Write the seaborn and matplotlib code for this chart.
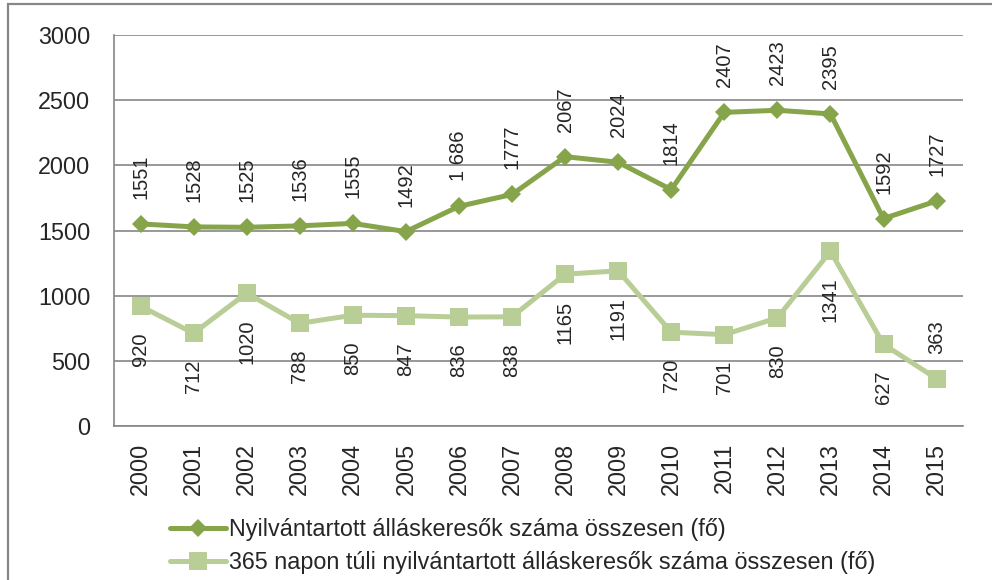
import pandas as pd
import matplotlib.pyplot as plt
import seaborn as sns
from matplotlib.patches import Rectangle

# data
years = ['2000', '2001', '2002', '2003', '2004', '2005', '2006', '2007',
         '2008', '2009', '2010', '2011', '2012', '2013', '2014', '2015']
osszes = [1551, 1528, 1525, 1536, 1555, 1492, 1686, 1777,
          2067, 2024, 1814, 2407, 2423, 2395, 1592, 1727]
osszes_labels = ['1551', '1528', '1525', '1536', '1555', '1492', '1 686', '1777',
                 '2067', '2024', '1814', '2407', '2423', '2395', '1592', '1727']
tartos = [920, 712, 1020, 788, 850, 847, 836, 838,
          1165, 1191, 720, 701, 830, 1341, 627, 363]

name1 = 'Nyilvántartott álláskeresők száma összesen (fő)'
name2 = '365 napon túli nyilvántartott álláskeresők száma összesen (fő)'

dark = '#86A44A'
light = '#B9CD96'
grey = '#868686'

df = pd.DataFrame({'idx': range(len(years)), 'year': years,
                   name1: osszes, name2: tartos})

sns.set_style('white')
plt.rcParams['font.family'] = ['Liberation Sans', 'DejaVu Sans']

fig = plt.figure(figsize=(9.92, 5.80), dpi=100)
ax = fig.add_axes([0.1149, 0.2655, 0.856, 0.674])

sns.lineplot(data=df, x='idx', y=name1, ax=ax, color=dark, linewidth=3.6,
             marker='D', markersize=8.7, markeredgewidth=0, label=name1)
sns.lineplot(data=df, x='idx', y=name2, ax=ax, color=light, linewidth=3.6,
             marker='s', markersize=13.5, markeredgewidth=0, label=name2)

fs = 16.8      # axis + legend text
lfs = 14.5     # data labels
for i, (v, t) in enumerate(zip(osszes, osszes_labels)):
    ax.annotate(t, (i, v), xytext=(0, 18), textcoords='offset points',
                rotation=90, ha='center', va='bottom', fontsize=lfs)
for i, v in enumerate(tartos):
    if v < 500:
        ax.annotate(str(v), (i, v), xytext=(0, 18), textcoords='offset points',
                    rotation=90, ha='center', va='bottom', fontsize=lfs)
    else:
        ax.annotate(str(v), (i, v), xytext=(0, -19), textcoords='offset points',
                    rotation=90, ha='center', va='top', fontsize=lfs)

ax.set_xlim(-0.5, len(years) - 0.5)
ax.set_ylim(0, 3000)
ax.set_yticks(range(0, 3001, 500))
ax.set_xticks(range(len(years)))
ax.set_xticklabels(years, rotation=90, fontsize=fs)
ax.set_xticks([i - 0.5 for i in range(len(years) + 1)], minor=True)
ax.tick_params(axis='y', labelsize=fs, length=6, color=grey, width=1.2, pad=11)
ax.tick_params(axis='x', which='major', length=0, pad=12)
ax.tick_params(axis='x', which='minor', length=6, color=grey, width=1.2)
ax.set_xlabel('')
ax.set_ylabel('')
ax.yaxis.grid(True, color=grey, linewidth=1.2)
ax.set_axisbelow(True)
for s in ['top', 'right']:
    ax.spines[s].set_visible(False)
for s in ['left', 'bottom']:
    ax.spines[s].set_color(grey)
    ax.spines[s].set_linewidth(1.2)

ax.legend(loc='center left', bbox_to_anchor=(0.171, 0.0586), bbox_transform=fig.transFigure,
          frameon=False, fontsize=fs, handlelength=2.4, handletextpad=0.15,
          labelspacing=0.45, borderaxespad=0, borderpad=0)

# chart area border (left/top edges visible in the reference)
fig.patches.append(Rectangle((0.008, -0.1), 1.2, 1.093, transform=fig.transFigure,
                             fill=False, edgecolor=grey, linewidth=1.6))

fig.savefig('out.png', dpi=100)
